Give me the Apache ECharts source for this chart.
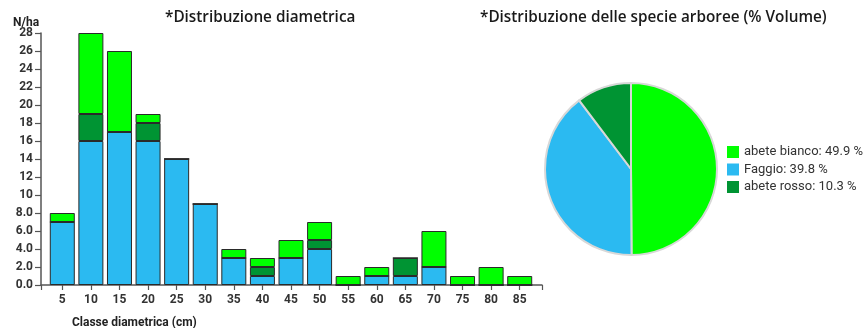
<!DOCTYPE html>
<html>
<head>
<meta charset="utf-8">
<script src="https://cdn.jsdelivr.net/npm/echarts@6/dist/echarts.min.js"></script>
<style>
  html, body { margin: 0; padding: 0; background: #fff; }
  #chart { width: 867px; height: 328px; }
</style>
</head>
<body>
<div id="chart"></div>
<script>
// classi diametriche (cm)
const classi = ['5', '10', '15', '20', '25', '30', '35', '40', '45', '50', '55', '60', '65', '70', '75', '80', '85']
// N/ha per specie, impilati dal basso
const faggio = [7, 16, 17, 16, 14, 9, 3, 1, 3, 4, 0, 1, 1, 2, 0, 0, 0]
const abeteRosso = [0, 3, 0, 2, 0, 0, 0, 1, 0, 1, 0, 0, 2, 0, 0, 0, 0]
const abeteBianco = [1, 9, 9, 1, 0, 0, 1, 1, 2, 2, 1, 1, 0, 4, 1, 2, 1]
// % volume
const specie = ['abete bianco', 'Faggio', 'abete rosso']
const volume = [49.9, 39.8, 10.3]

const verde = '#00ff00'
const azzurro = '#2bbaf1'
const verdeScuro = '#009433'
const coloriSpecie = [verde, azzurro, verdeScuro]

const chart = echarts.init(document.getElementById('chart'))

const barStyle = (color) => ({
    color: color,
    borderColor: '#2a2a2a',
    borderWidth: 1,
})

const titleFont = { fontFamily: 'Open Sans', fontSize: 15.3, fontWeight: 600, color: '#1a1a1a' }

const option = {
    animation: false,
    title: [
        { text: '*Distribuzione diametrica', left: 160, top: 5, textStyle: titleFont },
        { text: '*Distribuzione delle specie arboree (% Volume)', left: 475, top: 5, textStyle: titleFont },
        {
            text: 'N/ha',
            left: 8, top: 12,
            textStyle: { fontFamily: 'Roboto', fontSize: 12, fontWeight: 'bold', color: '#222' },
        },
        {
            text: 'Classe diametrica (cm)',
            left: 67, top: 312,
            textStyle: { fontFamily: 'Roboto', fontSize: 12, fontWeight: 'bold', color: '#222' },
        },
    ],
    // grid 0: barre, grid 1: assi disegnati
    grid: [
        { left: 48, width: 486, top: 33, bottom: 43 },
        { left: 41, width: 501, top: 33, bottom: 43 },
    ],
    xAxis: [
        {
            type: 'category',
            gridIndex: 0,
            data: classi,
            axisLine: { show: false },
            axisTick: { show: true, alignWithLabel: true, length: 5, lineStyle: { color: '#555', width: 1.2 } },
            axisLabel: { fontFamily: 'Roboto', fontSize: 12, fontWeight: 'bold', color: '#333', margin: 9 },
        },
        {
            type: 'value',
            gridIndex: 1,
            min: 0, max: 1, interval: 1,
            axisLine: { show: true, lineStyle: { color: '#555', width: 1.5 } },
            axisTick: { show: true, length: 5, lineStyle: { color: '#555', width: 1.2 } },
            axisLabel: { show: false },
            splitLine: { show: false },
        },
    ],
    yAxis: [
        {
            type: 'value',
            gridIndex: 0,
            min: 0, max: 28, interval: 2,
            show: false,
        },
        {
            type: 'value',
            gridIndex: 1,
            min: 0, max: 28, interval: 2,
            axisLine: { show: true, lineStyle: { color: '#555', width: 1.5 } },
            axisTick: { show: true, length: 6, lineStyle: { color: '#555', width: 1.2 } },
            axisLabel: {
                fontFamily: 'Roboto', fontSize: 12, fontWeight: 'bold', color: '#333', margin: 8,
                formatter: (v) => (v < 10 ? v.toFixed(1) : String(v)),
            },
            splitLine: { show: false },
        },
    ],
    legend: {
        data: specie,
        orient: 'vertical',
        left: 722, top: 140,
        icon: 'rect',
        itemWidth: 12, itemHeight: 12, itemGap: 3.5,
        itemStyle: { borderWidth: 0 },
        textStyle: { fontFamily: 'Roboto', fontSize: 13, lineHeight: 14, color: '#333' },
        formatter: (name) => name + ': ' + volume[specie.indexOf(name)] + ' %',
    },
    series: [
        {
            name: 'Faggio', type: 'bar', stack: 'n', xAxisIndex: 0, yAxisIndex: 0,
            barWidth: 25, data: faggio, itemStyle: barStyle(azzurro),
        },
        {
            name: 'abete rosso', type: 'bar', stack: 'n', xAxisIndex: 0, yAxisIndex: 0,
            barWidth: 25, data: abeteRosso, itemStyle: barStyle(verdeScuro),
        },
        {
            name: 'abete bianco', type: 'bar', stack: 'n', xAxisIndex: 0, yAxisIndex: 0,
            barWidth: 25, data: abeteBianco, itemStyle: barStyle(verde),
        },
        {
            type: 'pie',
            center: [631, 169],
            radius: 86,
            startAngle: 90,
            clockwise: true,
            label: { show: false },
            labelLine: { show: false },
            itemStyle: { borderColor: '#d8d8d8', borderWidth: 2 },
            data: specie.map((s, i) => ({ name: s, value: volume[i], itemStyle: { color: coloriSpecie[i] } })),
        },
    ],
}

chart.setOption(option)
</script>
</body>
</html>
